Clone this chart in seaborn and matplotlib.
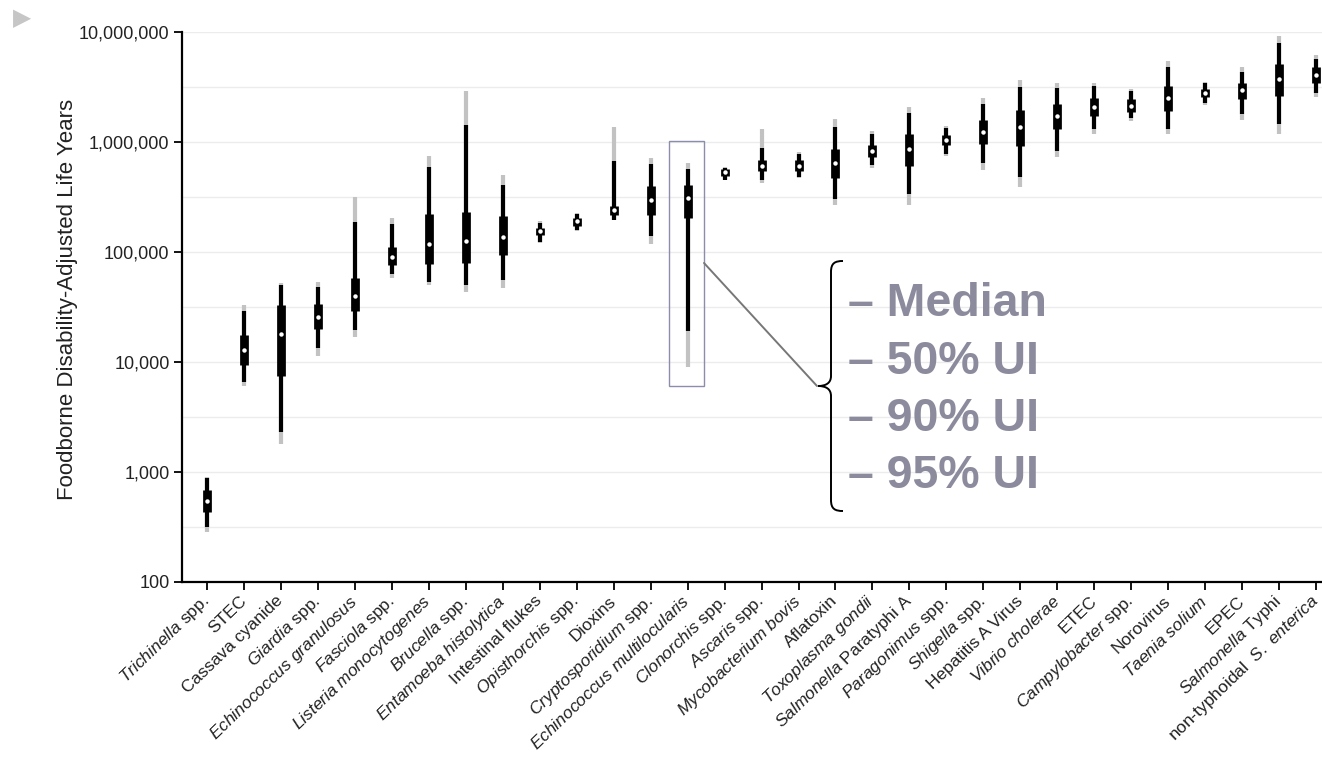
import numpy as np
import pandas as pd
import seaborn as sns
import matplotlib.pyplot as plt
from matplotlib.patches import Rectangle, PathPatch
from matplotlib.path import Path
from matplotlib.transforms import Affine2D
from matplotlib.ticker import FuncFormatter

# Hazards, sorted by median foodborne DALYs
categories = [
    'Trichinella spp.', 'STEC', 'Cassava cyanide', 'Giardia spp.',
    'Echinococcus granulosus', 'Fasciola spp.', 'Listeria monocytogenes',
    'Brucella spp.', 'Entamoeba histolytica', 'Intestinal flukes',
    'Opisthorchis spp.', 'Dioxins', 'Cryptosporidium spp.',
    'Echinococcus multilocularis', 'Clonorchis spp.', 'Ascaris spp.',
    'Mycobacterium bovis', 'Aflatoxin', 'Toxoplasma gondii',
    'Salmonella Paratyphi A', 'Paragonimus spp.', 'Shigella spp.',
    'Hepatitis A Virus', 'Vibrio cholerae', 'ETEC', 'Campylobacter spp.',
    'Norovirus', 'Taenia solium', 'EPEC', 'Salmonella Typhi',
    'non-typhoidal S. enterica',
]

# tick labels with the italic parts of the names
tick_labels = [
    r'$\mathit{Trichinella}$ spp.', 'STEC', 'Cassava cyanide', r'$\mathit{Giardia}$ spp.',
    r'$\mathit{Echinococcus\ granulosus}$', r'$\mathit{Fasciola}$ spp.',
    r'$\mathit{Listeria\ monocytogenes}$', r'$\mathit{Brucella}$ spp.',
    r'$\mathit{Entamoeba\ histolytica}$', 'Intestinal flukes',
    r'$\mathit{Opisthorchis}$ spp.', 'Dioxins', r'$\mathit{Cryptosporidium}$ spp.',
    r'$\mathit{Echinococcus\ multilocularis}$', r'$\mathit{Clonorchis}$ spp.',
    r'$\mathit{Ascaris}$ spp.', r'$\mathit{Mycobacterium\ bovis}$', 'Aflatoxin',
    r'$\mathit{Toxoplasma\ gondii}$', r'$\mathit{Salmonella}$ Paratyphi A',
    r'$\mathit{Paragonimus}$ spp.', r'$\mathit{Shigella}$ spp.', 'Hepatitis A Virus',
    r'$\mathit{Vibrio\ cholerae}$', 'ETEC', r'$\mathit{Campylobacter}$ spp.',
    'Norovirus', r'$\mathit{Taenia\ solium}$', 'EPEC', r'$\mathit{Salmonella}$ Typhi',
    r'non-typhoidal  $\mathit{S.\ enterica}$',
]

median = [550, 12800, 18000, 25900, 39700, 89600, 117000, 125000, 138000, 154000,
          190000, 240000, 295000, 312000, 532000, 607000, 611000, 640000, 827000, 859000,
          1042000, 1245000, 1357000, 1726000, 2094000, 2143000, 2500000, 2786000, 2966000,
          3740000, 4100000]
lo50 = [436, 9480, 7510, 20100, 28900, 76700, 78000, 79800, 93200, 143000,
        172000, 217000, 218000, 202000, 492000, 540000, 548000, 470000, 724000, 601000,
        943000, 966000, 914000, 1316000, 1726000, 1892000, 1923000, 2580000, 2440000,
        2600000, 3460000]
hi50 = [683, 17500, 33300, 33500, 58100, 112000, 222000, 230000, 212000, 166000,
        205000, 263000, 396000, 408000, 570000, 692000, 681000, 859000, 943000, 1171000,
        1153000, 1596000, 1937000, 2210000, 2500000, 2440000, 3250000, 3035000, 3460000,
        5100000, 4800000]
lo90 = [315, 6540, 2300, 13300, 19400, 62800, 53700, 49800, 55500, 124000,
        159000, 197000, 139000, 19300, 455000, 455000, 484000, 302000, 621000, 334000,
        783000, 640000, 481000, 827000, 1316000, 1648000, 1316000, 2260000, 1795000,
        1455000, 2786000]
hi90 = [875, 28900, 49800, 48200, 187000, 178000, 593000, 1430000, 406000, 185000,
        220000, 665000, 631000, 574000, 585000, 887000, 783000, 1368000, 1171000, 1835000,
        1346000, 2210000, 3155000, 3105000, 3250000, 2920000, 4830000, 3410000, 4370000,
        8000000, 5730000]
lo95 = [285, 6060, 1780, 11400, 16900, 58500, 50500, 43000, 47500, 120000,
        154000, 194000, 119000, 8920, 449000, 421000, 470000, 269000, 583000, 269000,
        748000, 561000, 387000, 724000, 1189000, 1561000, 1171000, 2177000, 1597000,
        1171000, 2580000]
hi95 = [908, 33260, 52100, 53000, 319000, 205000, 748000, 2900000, 500000, 193000,
        227000, 1380000, 719000, 640000, 593000, 1306000, 807000, 1622000, 1265000, 2075000,
        1390000, 2500000, 3680000, 3460000, 3460000, 3060000, 5420000, 3515000, 4800000,
        9120000, 6190000]

legend_rows = ['– Median', '– 50% UI', '– 90% UI', '– 95% UI']

df = pd.DataFrame({'hazard': categories, 'median': median,
                   'lo50': lo50, 'hi50': hi50, 'lo90': lo90, 'hi90': hi90,
                   'lo95': lo95, 'hi95': hi95})

sns.set_theme(style='ticks')
plt.rcParams['font.family'] = ['Liberation Sans', 'DejaVu Sans']
plt.rcParams['mathtext.fontset'] = 'custom'
plt.rcParams['mathtext.rm'] = 'Liberation Sans'
plt.rcParams['mathtext.it'] = 'Liberation Sans:italic'

W, H = 1322, 759
fig = plt.figure(figsize=(W / 100, H / 100), dpi=100)
ax = fig.add_axes([182 / W, 1 - 582 / H, 1 - 182 / W, 550 / H])
ax.set_yscale('log')

pos = np.arange(len(df))
l95 = ax.vlines(pos, df['lo95'], df['hi95'], color='#c2c2c2', lw=3.0, zorder=2)
l90 = ax.vlines(pos, df['lo90'], df['hi90'], color='black', lw=3.0, zorder=3)
l50 = ax.vlines(pos, df['lo50'], df['hi50'], color='black', lw=6.3, zorder=4)
for lc in (l95, l90, l50):
    lc.set_capstyle('butt')

sns.stripplot(data=df, x='hazard', y='median', order=categories, jitter=False,
              color='white', size=3.2, linewidth=0, zorder=6, ax=ax)

ax.set_ylim(100, 1e7)
ax.set_xlim(-0.676, 30.16)
ax.set_yticks([10 ** k for k in range(2, 8)])
ax.set_yticks([10 ** (k + 0.5) for k in range(2, 7)], minor=True)
ax.yaxis.set_major_formatter(FuncFormatter(lambda v, _: f'{int(round(v)):,}'))
ax.tick_params(axis='y', which='minor', length=0)
ax.tick_params(axis='both', which='major', length=6, width=1.3, color='black',
               labelcolor='#222222', direction='out', pad=3)
ax.tick_params(axis='y', labelsize=13)
ax.tick_params(axis='x', labelsize=12.5, pad=6)
ax.grid(axis='y', which='both', color='#ececec', lw=1)
ax.set_axisbelow(True)

ax.set_xticks(pos, tick_labels, rotation=44, ha='right', va='center',
              rotation_mode='anchor')
ax.set_xlabel('')
ax.set_ylabel('Foodborne Disability-Adjusted Life Years', fontsize=16, color='#222222')
ax.yaxis.set_label_coords(-0.0912, 0.513)

sns.despine(ax=ax)
for side in ('left', 'bottom'):
    ax.spines[side].set_color('black')
    ax.spines[side].set_linewidth(1.6)

# highlight box around Echinococcus multilocularis
k = categories.index('Echinococcus multilocularis')
box_lo = df['lo95'][k] / 1.48
box_hi = df['hi95'][k] * 1.6
ax.add_patch(Rectangle((k - 0.5, box_lo), 0.94, box_hi - box_lo, fill=False,
                       edgecolor='#8a8eaa', lw=1, zorder=7))

# annotation in pixel space
px = Affine2D().scale(1 / W, -1 / H).translate(0, 1) + fig.transFigure
fig.add_artist(plt.Line2D([704, 817], [263, 386], color='#777777', lw=1.4, transform=px))
brace = Path(
    [(843, 261), (835, 261), (831, 263), (831, 272),
     (831, 376),
     (831, 383), (826, 386), (818, 386),
     (826, 386), (831, 389), (831, 396),
     (831, 500),
     (831, 509), (835, 511), (843, 511)],
    [Path.MOVETO, Path.CURVE4, Path.CURVE4, Path.CURVE4,
     Path.LINETO,
     Path.CURVE4, Path.CURVE4, Path.CURVE4,
     Path.CURVE4, Path.CURVE4, Path.CURVE4,
     Path.LINETO,
     Path.CURVE4, Path.CURVE4, Path.CURVE4])
fig.add_artist(PathPatch(brace, fill=False, edgecolor='black', lw=1.4, transform=px))

for i, row in enumerate(legend_rows):
    fig.text(848, 316 + 57.5 * i, row, transform=px, fontsize=33.5, fontweight='bold',
             color='#8b8b9d', va='baseline', ha='left')

fig.text(22, 18, '▶', transform=px, fontsize=17, color='#c6c6c6',
         family='DejaVu Sans', ha='center', va='center')

fig.savefig('out.png', dpi=100)
